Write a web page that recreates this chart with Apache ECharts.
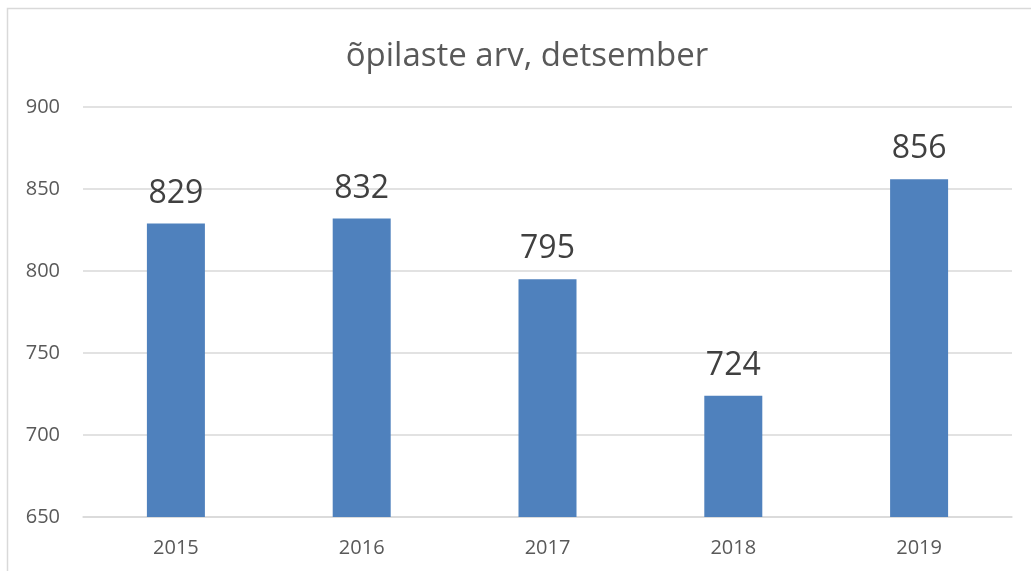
<!DOCTYPE html>
<html>
<head>
<meta charset="utf-8">
<script src="https://cdn.jsdelivr.net/npm/echarts@6/dist/echarts.min.js"></script>
<style>
html,body{margin:0;padding:0;background:#fff;}
#chart{width:1031px;height:571px;}
</style>
</head>
<body>
<div id="chart"></div>
<script>
const titleText = 'õpilaste arv, detsember';
const categories = ['2015', '2016', '2017', '2018', '2019'];
const values = [829, 832, 795, 724, 856];
const yMin = 650, yMax = 900, yStep = 50;

const chart = echarts.init(document.getElementById('chart'), null, {renderer: 'canvas'});
chart.setOption({
  animation: false,
  backgroundColor: '#ffffff',
  textStyle: {fontFamily: '"Open Sans", sans-serif'},
  title: {
    text: titleText,
    left: 522,
    textAlign: 'center',
    top: 35,
    textStyle: {fontFamily: '"Open Sans", sans-serif', fontSize: 33, fontWeight: 'normal', color: '#595959'}
  },
  graphic: [{
    type: 'rect',
    shape: {x: 7.5, y: 8.5, width: 1100, height: 1000},
    style: {fill: 'none', stroke: '#d9d9d9', lineWidth: 1.5},
    silent: true, z: -1
  }],
  grid: {left: 83, right: 19, top: 107, bottom: 54, containLabel: false},
  xAxis: {
    type: 'category',
    data: categories,
    axisLine: {show: true, lineStyle: {color: '#d9d9d9', width: 1.5}},
    axisTick: {show: false},
    axisLabel: {color: '#595959', fontSize: 20, margin: 21, fontFamily: '"Open Sans", sans-serif'}
  },
  yAxis: {
    type: 'value',
    min: yMin, max: yMax, interval: yStep,
    axisLine: {show: false},
    axisTick: {show: false},
    splitLine: {lineStyle: {color: '#d9d9d9', width: 1.5}},
    axisLabel: {color: '#595959', fontSize: 20, margin: 23, fontFamily: '"Open Sans", sans-serif'}
  },
  series: [{
    type: 'bar',
    data: values,
    barWidth: 58,
    itemStyle: {color: '#4f81bd'},
    label: {show: true, position: 'top', distance: 14, fontSize: 32, color: '#404040', fontFamily: '"Open Sans", sans-serif'}
  }]
});
</script>
</body>
</html>
